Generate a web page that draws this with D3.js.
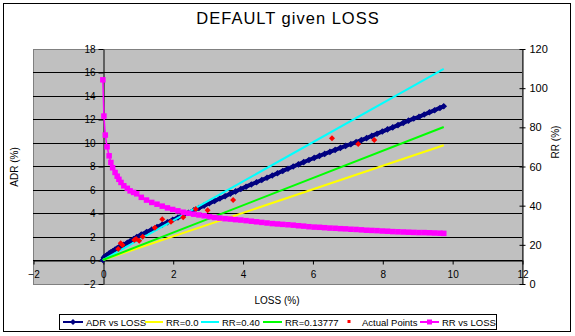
<!DOCTYPE html>
<html>
<head>
<meta charset="utf-8">
<script src="https://cdn.jsdelivr.net/npm/d3@7"></script>
<style>
  body { margin: 0; background: #fff; }
  svg { display: block; }
  text { font-family: "Liberation Sans", Arial, sans-serif; fill: #000; }
</style>
</head>
<body>
<svg id="chart" width="575" height="336"></svg>
<script>
// Loss levels (%) shared by the ADR and RR curves
const lossPts = [0.00, 0.03, 0.07, 0.12, 0.18, 0.23, 0.28, 0.35, 0.41, 0.46, 0.52, 0.60, 0.70, 0.78, 0.88, 0.97,
  1.10, 1.25, 1.40, 1.55, 1.70, 1.85, 2.00, 2.15, 2.30, 2.45, 2.60, 2.75, 2.90, 3.05, 3.20, 3.35, 3.50, 3.65,
  3.80, 3.95, 4.10, 4.25, 4.40, 4.55, 4.70, 4.85, 5.00, 5.15, 5.30, 5.45, 5.60, 5.75, 5.90, 6.05, 6.20, 6.35,
  6.50, 6.65, 6.80, 6.95, 7.10, 7.25, 7.40, 7.55, 7.70, 7.85, 8.00, 8.15, 8.30, 8.45, 8.60, 8.75, 8.90, 9.05,
  9.20, 9.35, 9.50, 9.65, 9.76];
// ADR (%) at each loss level
const adrVals = [0.00, 0.22, 0.31, 0.43, 0.56, 0.65, 0.74, 0.90, 1.00, 1.08, 1.17, 1.30, 1.46, 1.60, 1.78, 1.95,
  2.16, 2.38, 2.59, 2.81, 3.01, 3.21, 3.42, 3.62, 3.82, 4.02, 4.22, 4.43, 4.63, 4.83, 5.03, 5.23, 5.43, 5.64,
  5.84, 6.04, 6.24, 6.43, 6.62, 6.81, 7.00, 7.19, 7.38, 7.58, 7.77, 7.96, 8.14, 8.33, 8.51, 8.69, 8.86, 9.03,
  9.20, 9.37, 9.54, 9.71, 9.86, 10.03, 10.20, 10.37, 10.56, 10.75, 10.93, 11.12, 11.29, 11.48, 11.67, 11.86, 12.04, 12.18,
  12.38, 12.57, 12.75, 12.94, 13.08];
// Recovery rate RR (%) at each loss level (right axis)
const rrVals = [104.0, 85.5, 75.8, 69.8, 65.2, 61.8, 59.1, 56.7, 54.8, 53.2, 51.6, 49.9, 48.6, 47.3, 46.5, 45.8,
  44.0, 42.6, 41.4, 40.5, 39.5, 38.6, 37.8, 37.1, 36.4, 35.9, 35.4, 35.0, 34.6, 34.1, 33.7, 33.4, 33.1, 32.9,
  32.6, 32.4, 32.1, 31.8, 31.5, 31.2, 30.9, 30.6, 30.4, 30.2, 30.0, 29.8, 29.5, 29.3, 29.0, 28.8, 28.7, 28.5,
  28.3, 28.2, 28.0, 27.9, 27.7, 27.6, 27.4, 27.2, 27.1, 27.0, 26.8, 26.7, 26.5, 26.4, 26.3, 26.2, 26.1, 26.0,
  26.0, 25.9, 25.8, 25.7, 25.6];

// Observed (loss, ADR) pairs
const actualLoss = [0.44, 0.51, 0.56, 0.90, 0.95, 1.04, 1.14, 1.49, 1.70, 1.95, 2.30, 2.66, 3.00, 3.73, 6.56, 7.31, 7.77];
const actualAdr  = [0.94, 1.42, 1.28, 1.70, 1.79, 1.64, 1.98, 2.75, 3.46, 3.26, 3.63, 4.34, 4.24, 5.11, 10.36, 9.87, 10.21];

// Constant-recovery reference lines: ADR at the two ends of the loss range
const refLoss    = [0, 9.76];
const adrRR00    = [0, 9.76];
const adrRR40    = [0, 16.27];
const adrRR13777 = [0, 11.32];

const xTicks  = [-2, 0, 2, 4, 6, 8, 10, 12];
const yTicks  = [-2, 0, 2, 4, 6, 8, 10, 12, 14, 16, 18];
const rrTicks = [0, 20, 40, 60, 80, 100, 120];
const seriesNames = ["ADR vs LOSS", "RR=0.0", "RR=0.40", "RR=0.13777", "Actual Points", "RR vs LOSS"];

const COL = { adr: "#000080", rr0: "#FFFF00", rr40: "#00FFFF", rr13: "#00FF00", act: "#FF0000", rr: "#FF00FF" };

const svg = d3.select("#chart");
const P = { l: 33, r: 522, t: 48.5, b: 283.5 };

const x  = d3.scaleLinear().domain([-2, 12]).range([P.l, P.r]);
const y  = d3.scaleLinear().domain([-2, 18]).range([P.b, P.t]);
const yR = d3.scaleLinear().domain([0, 120]).range([P.b, P.t]);
const crisp = v => Math.round(v) + 0.5;

// chart frame
svg.append("rect").attr("x", 3.5).attr("y", 3.5).attr("width", 567).attr("height", 328)
  .attr("fill", "#fff").attr("stroke", "#000").attr("stroke-width", 1);

// title
svg.append("text").attr("x", 288).attr("y", 24).attr("text-anchor", "middle")
  .style("font-size", "16.5px").style("letter-spacing", "1px").text("DEFAULT given LOSS");

// plot area
svg.append("rect").attr("x", P.l + 0.5).attr("y", crisp(P.t)).attr("width", P.r - P.l).attr("height", Math.round(P.b) - Math.round(P.t))
  .attr("fill", "#C0C0C0").attr("stroke", "#808080").attr("stroke-width", 1);

// horizontal gridlines
svg.append("g").selectAll("line").data(yTicks.filter(t => t > -2 && t < 18)).join("line")
  .attr("x1", P.l).attr("x2", P.r).attr("y1", d => crisp(y(d))).attr("y2", d => crisp(y(d)))
  .attr("stroke", "#000").attr("stroke-width", 1);

// left value axis, crossing at loss = 0
const gL = svg.append("g").attr("transform", `translate(${crisp(x(0))},0.5)`)
  .call(d3.axisLeft(y).tickValues(yTicks).tickSize(5).tickSizeOuter(0).tickPadding(3));
gL.select(".domain").attr("stroke", "#000");
gL.selectAll("text").style("font-size", "10px");

// bottom axis, crossing at ADR = 0
const gB = svg.append("g").attr("transform", `translate(0.5,${crisp(y(0))})`)
  .call(d3.axisBottom(x).tickValues(xTicks).tickSize(4).tickSizeOuter(0).tickPadding(6));
gB.select(".domain").attr("stroke", "#000");
gB.selectAll("text").style("font-size", "10px");

// right axis for RR
const gR = svg.append("g").attr("transform", `translate(${crisp(P.r)},0.5)`)
  .call(d3.axisRight(yR).tickValues(rrTicks).tickSize(3).tickSizeOuter(0).tickPadding(4));
gR.select(".domain").attr("stroke", "#000");
gR.selectAll(".tick line").attr("x1", -3);
gR.selectAll("text").style("font-size", "11px");

// axis titles
svg.append("text").attr("transform", "translate(18,167) rotate(-90)").attr("text-anchor", "middle")
  .style("font-size", "10px").text("ADR (%)");
svg.append("text").attr("transform", "translate(559,142) rotate(-90)").attr("text-anchor", "middle")
  .style("font-size", "10px").text("RR (%)");
svg.append("text").attr("x", 277).attr("y", 304).attr("text-anchor", "middle")
  .style("font-size", "10px").text("LOSS (%)");

const plot = svg.append("g");
const diamond = s => `M0,${-s}L${s},0L0,${s}L${-s},0Z`;

// ADR vs LOSS
const adrData = lossPts.map((l, i) => [l, adrVals[i]]);
plot.append("path").datum(adrData)
  .attr("d", d3.line().x(d => x(d[0])).y(d => y(d[1])))
  .attr("fill", "none").attr("stroke", COL.adr).attr("stroke-width", 4);
plot.append("g").selectAll("path").data(adrData).join("path")
  .attr("transform", d => `translate(${x(d[0])},${y(d[1])})`)
  .attr("d", diamond(3.3)).attr("fill", COL.adr);

// constant-RR reference lines
[[adrRR00, COL.rr0], [adrRR40, COL.rr40], [adrRR13777, COL.rr13]].forEach(([vals, c]) => {
  plot.append("path").datum(refLoss.map((l, i) => [l, vals[i]]))
    .attr("d", d3.line().x(d => x(d[0])).y(d => y(d[1])))
    .attr("fill", "none").attr("stroke", c).attr("stroke-width", 2);
});

// observed points
plot.append("g").selectAll("path").data(actualLoss.map((l, i) => [l, actualAdr[i]])).join("path")
  .attr("transform", d => `translate(${x(d[0])},${y(d[1])})`)
  .attr("d", diamond(3)).attr("fill", COL.act);

// RR vs LOSS on the right axis
const rrData = lossPts.map((l, i) => [l, rrVals[i]]);
plot.append("path").datum(rrData)
  .attr("d", d3.line().x(d => x(d[0])).y(d => yR(d[1])))
  .attr("fill", "none").attr("stroke", COL.rr).attr("stroke-width", 1.5);
plot.append("g").selectAll("rect").data(rrData).join("rect")
  .attr("x", d => x(d[0]) - 2.75).attr("y", d => yR(d[1]) - 2.75)
  .attr("width", 5.5).attr("height", 5.5).attr("fill", COL.rr);

// legend
const lg = svg.append("g");
lg.append("rect").attr("x", 59.5).attr("y", 314.5).attr("width", 437).attr("height", 15)
  .attr("fill", "#fff").attr("stroke", "#000").attr("stroke-width", 1);
const legendLayout = [
  { x0: 63, x1: 83, tx: 86, col: COL.adr, mark: "diamond", line: true },
  { x0: 145, x1: 163, tx: 166, col: COL.rr0, mark: null, line: true },
  { x0: 201, x1: 219, tx: 222, col: COL.rr40, mark: null, line: true },
  { x0: 263, x1: 282, tx: 285, col: COL.rr13, mark: null, line: true },
  { x0: 346, x1: 352, tx: 362, col: COL.act, mark: "dot", line: false },
  { x0: 420, x1: 439, tx: 442, col: COL.rr, mark: "square", line: true }
];
const ly = 322;
legendLayout.forEach((it, i) => {
  const cx = (it.x0 + it.x1) / 2;
  if (it.line) lg.append("line").attr("x1", it.x0).attr("x2", it.x1).attr("y1", ly).attr("y2", ly)
    .attr("stroke", it.col).attr("stroke-width", 2);
  if (it.mark === "diamond") lg.append("path").attr("transform", `translate(${cx},${ly})`).attr("d", diamond(3)).attr("fill", it.col);
  if (it.mark === "square") lg.append("rect").attr("x", cx - 2.5).attr("y", ly - 2.5).attr("width", 5).attr("height", 5).attr("fill", it.col);
  if (it.mark === "dot") lg.append("rect").attr("x", cx - 1.5).attr("y", ly - 2).attr("width", 3).attr("height", 3).attr("fill", it.col);
  lg.append("text").attr("x", it.tx).attr("y", ly + 3.5).style("font-size", "9.5px").text(seriesNames[i]);
});
</script>
</body>
</html>
